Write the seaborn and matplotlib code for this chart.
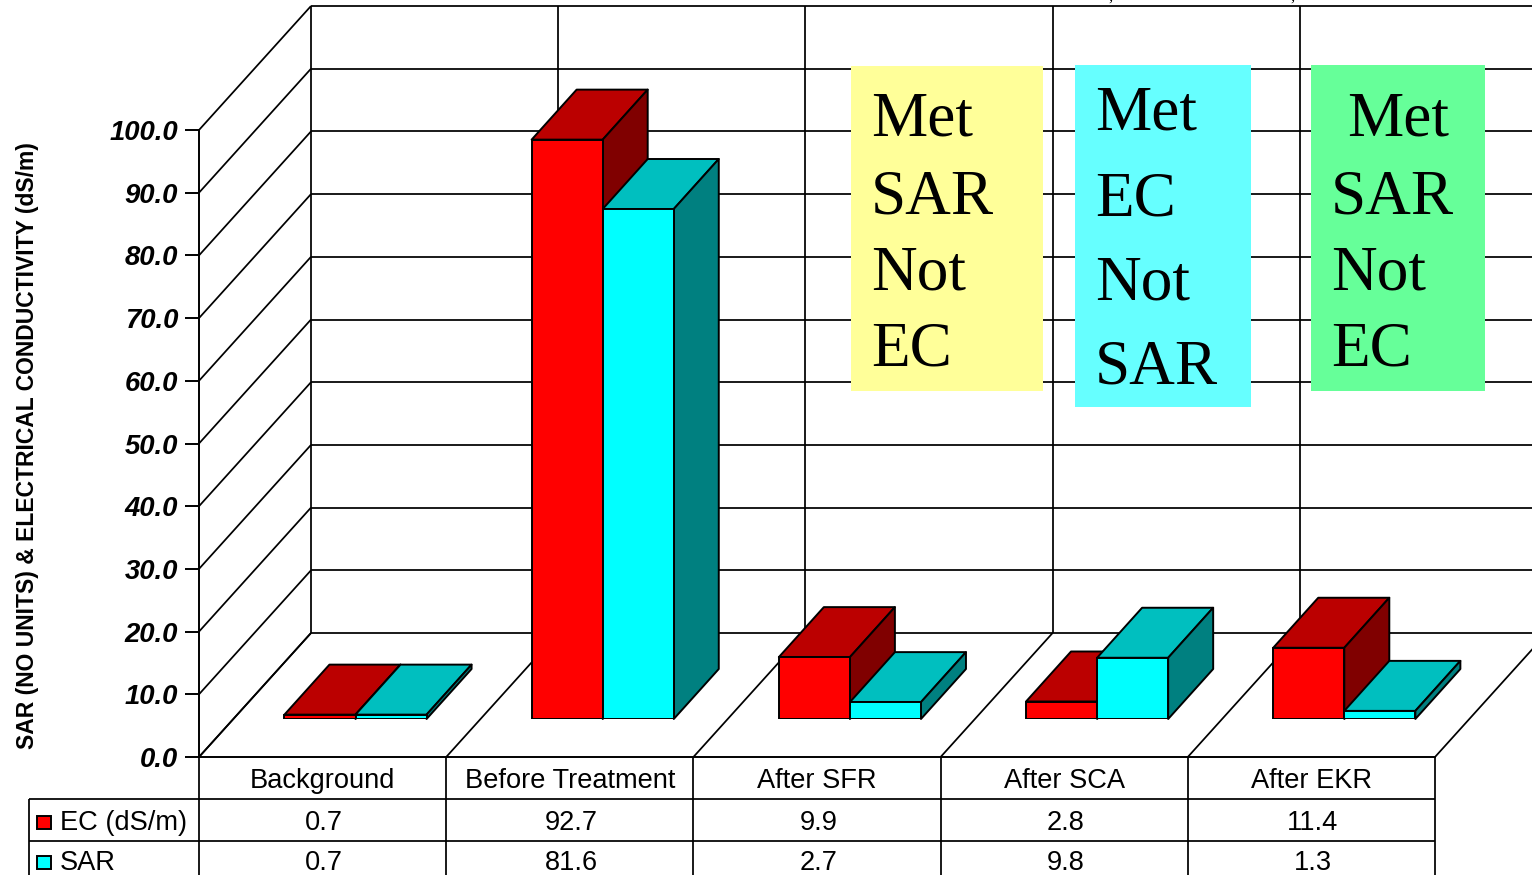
import matplotlib
matplotlib.use("Agg")
import matplotlib.pyplot as plt
import numpy as np
import pandas as pd
import seaborn as sns
from matplotlib.patches import Polygon, Rectangle

categories = ["Background", "Before Treatment", "After SFR", "After SCA", "After EKR"]
ec_values = [0.7, 92.7, 9.9, 2.8, 11.4]
sar_values = [0.7, 81.6, 2.7, 9.8, 1.3]
series_names = ["EC (dS/m)", "SAR"]
y_ticks = list(range(0, 101, 10))
y_label = "SAR (NO UNITS) & ELECTRICAL CONDUCTIVITY (dS/m)"
front_colors = ["#FF0000", "#00FFFF"]
top_colors = ["#BB0000", "#00BFBF"]
side_colors = ["#800000", "#008080"]
notes = [
    ("#FFFF99", (851, 66, 192, 325),
     [("Met", 871, 135), ("SAR", 871, 213), ("Not", 871, 289), ("EC", 871, 365)]),
    ("#66FFFF", (1075, 65, 176, 342),
     [("Met", 1095, 129), ("EC", 1095, 215), ("Not", 1095, 299), ("SAR", 1095, 383)]),
    ("#66FF99", (1311, 65, 174, 326),
     [("Met", 1347, 135), ("SAR", 1331, 213), ("Not", 1331, 289), ("EC", 1331, 365)]),
]

W, H = 1532, 875
sns.set_theme(style="white")
plt.rcParams["font.family"] = ["Liberation Sans", "DejaVu Sans"]
fig = plt.figure(figsize=(W / 100, H / 100), dpi=100, facecolor="white")


def rect(x0, y_top, x1, y_bot):
    return [x0 / W, 1 - y_bot / H, (x1 - x0) / W, (y_bot - y_top) / H]


LW = 1.4
TXT = 19.6
LEFT, RIGHT, FLOOR, TOP = 199, 1435, 757, 130

# ---------- walls, floor, table: a value axis in the chart's own units ----------
ax = fig.add_axes(rect(LEFT, TOP, RIGHT, FLOOR), zorder=1)
ax.patch.set_alpha(0)
ax.set_xlim(-0.5, 4.5)
ax.set_ylim(0, 100)
px_x = (RIGHT - LEFT) / 5
px_y = (FLOOR - TOP) / 100
dep_x = 112 / px_x
dep_y = 124 / px_y
for s in ("top", "right"):
    ax.spines[s].set_visible(False)
for s in ("left", "bottom"):
    ax.spines[s].set_linewidth(LW)
    ax.spines[s].set_color("black")

ax.set_yticks(y_ticks)
ax.set_yticklabels([f"{v:.1f}" for v in y_ticks], fontsize=19.8, fontweight="bold",
                   fontstyle="italic", color="black")
ax.tick_params(axis="y", left=True, length=10, width=LW, pad=5, color="black")
ax.set_ylabel(y_label, fontsize=16.5, fontweight="bold", color="black")
ax.yaxis.set_label_coords((39 - LEFT) / (RIGHT - LEFT), (FLOOR - 446) / (FLOOR - TOP))

ax.set_xticks(range(len(categories)))
ax.set_xticklabels(categories, fontsize=TXT, color="black")
ax.tick_params(axis="x", bottom=False, length=0, pad=8)

line = dict(color="black", lw=LW * 0.9, clip_on=False, solid_capstyle="butt")
x_left = -0.5
x_far = 6.0
for v in y_ticks:
    ax.plot([x_left, x_left + dep_x], [v, v + dep_y], **line)
    ax.plot([x_left + dep_x, x_far], [v + dep_y, v + dep_y], **line)
for k in range(len(categories) + 2):
    ax.plot([x_left + k + dep_x] * 2, [dep_y, 100 + dep_y], **line)
    ax.plot([x_left + k, x_left + k + dep_x], [0, dep_y], **line)

# table rows below the floor, expressed as pixel drops from the axis
row_1 = -(799 - FLOOR) / px_y
row_2 = -(841 - FLOOR) / px_y
row_end = -(880 - FLOOR) / px_y
row_text = [-(822.5 - FLOOR) / px_y, -(862.5 - FLOOR) / px_y]
tab_left = x_left - (LEFT - 29) / px_x
ax.plot([tab_left, 4.5], [row_1, row_1], **line)
ax.plot([tab_left, 4.5], [row_2, row_2], **line)
ax.plot([tab_left, tab_left], [row_1, row_end], **line)
for k in range(len(categories) + 1):
    ax.plot([x_left + k] * 2, [0, row_end], **line)
for row_y, vals in zip(row_text, (ec_values, sar_values)):
    for k, v in enumerate(vals):
        ax.text(k + 0.005, row_y, f"{v:.1f}", ha="center", va="center", fontsize=TXT,
                color="black", clip_on=False)

# ---------- bars ----------
BASE = 719
BAR_PX = 6.25
x0_bar = 355.5 - px_x / 2
ax_bar = fig.add_axes(rect(x0_bar, BASE - 100 * BAR_PX, x0_bar + 5 * px_x, BASE), zorder=2)
ax_bar.patch.set_alpha(0)
df = pd.DataFrame({
    "category": categories * 2,
    "value": ec_values + sar_values,
    "series": [series_names[0]] * 5 + [series_names[1]] * 5,
})
sns.barplot(data=df, x="category", y="value", hue="series", hue_order=series_names,
            order=categories, palette=front_colors, saturation=1, width=0.575, gap=0,
            edgecolor="black", linewidth=LW, legend=False, ax=ax_bar)
ax_bar.set_xlim(-0.5, 4.5)
ax_bar.set_ylim(0, 100)
ax_bar.axis("off")
bx = 45 / px_x
by = 50 / BAR_PX
for si, cont in enumerate(ax_bar.containers):
    for bar in cont:
        bar.set_zorder(10)
        x, w, h = bar.get_x(), bar.get_width(), bar.get_height()
        top = Polygon([(x, h), (x + bx, h + by), (x + w + bx, h + by), (x + w, h)], closed=True,
                      facecolor=top_colors[si], edgecolor="black", lw=LW, zorder=3 + si,
                      clip_on=False, joinstyle="round")
        side = Polygon([(x + w, 0), (x + w + bx, by), (x + w + bx, h + by), (x + w, h)], closed=True,
                       facecolor=side_colors[si], edgecolor="black", lw=LW, zorder=3 + si,
                       clip_on=False, joinstyle="round")
        ax_bar.add_patch(top)
        ax_bar.add_patch(side)

# ---------- overlay in pixel units: note boxes, legend keys ----------
ov = fig.add_axes([0, 0, 1, 1], zorder=3)
ov.patch.set_alpha(0)
ov.set_xlim(0, W)
ov.set_ylim(H, 0)
ov.axis("off")
for color, (bx0, by0, bw, bh), lines in notes:
    ov.add_patch(Rectangle((bx0, by0), bw, bh, facecolor=color, edgecolor="none"))
    for txt, tx, ty in lines:
        ov.text(tx, ty, txt, fontsize=45.5, family=["Liberation Serif"], color="black",
                ha="left", va="baseline")
for name, color, yc in zip(series_names, front_colors, (822.5, 862.5)):
    ov.add_patch(Rectangle((37, yc - 6.5), 14, 13, facecolor=color, edgecolor="black", lw=LW))
    ov.text(60, yc, name, fontsize=TXT, color="black", ha="left", va="center")
for cx in (1110, 1292):
    ov.text(cx, 1, ",", fontsize=12, family=["Liberation Serif"], color="black",
            ha="center", va="baseline", clip_on=False)

fig.savefig("out.png", dpi=100)
